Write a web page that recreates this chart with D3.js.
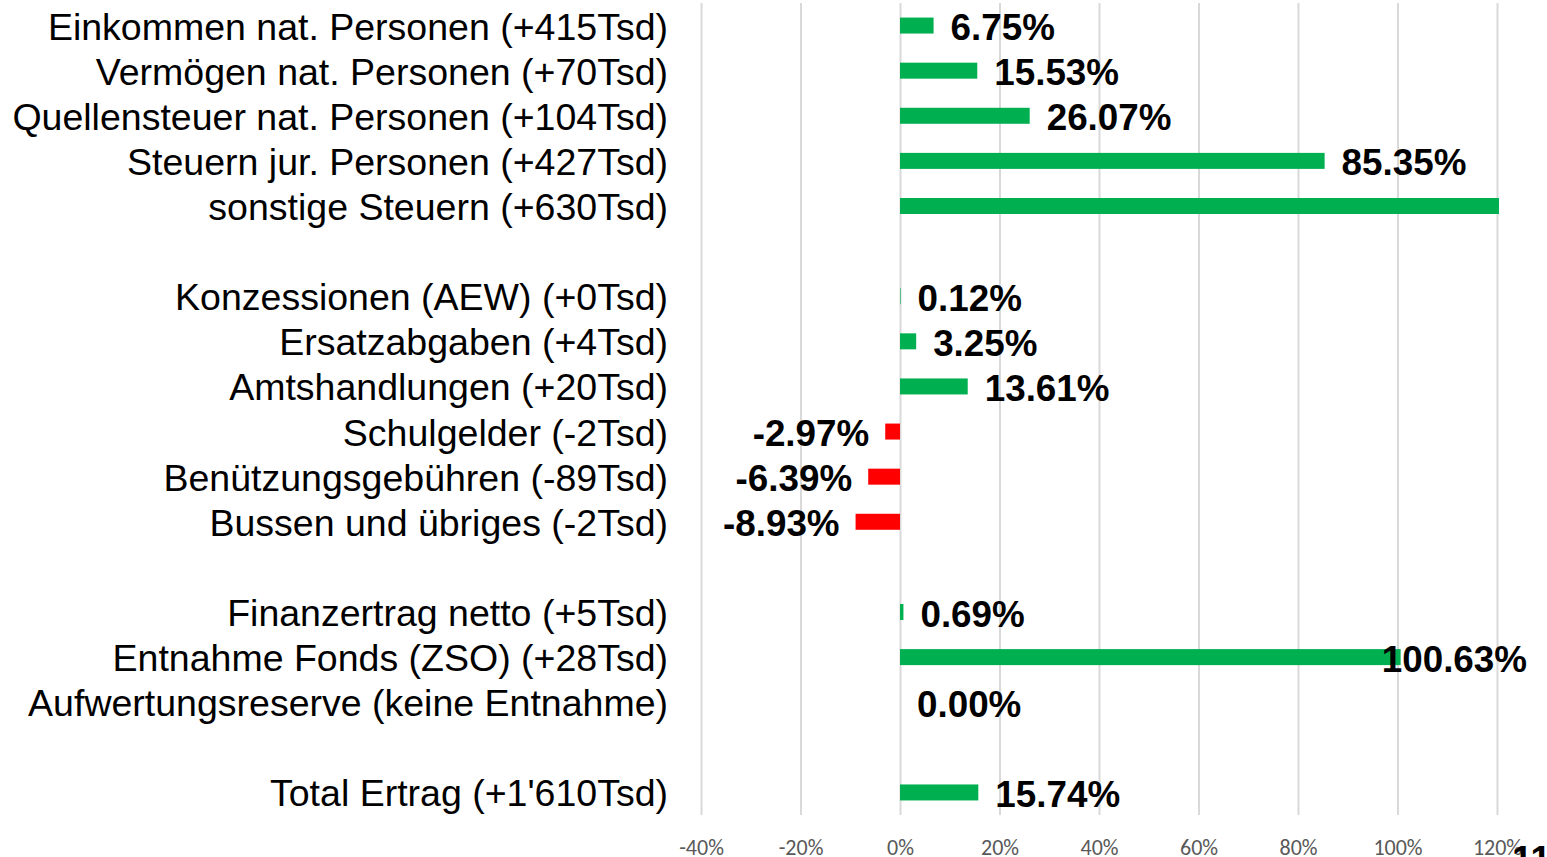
<!DOCTYPE html>
<html>
<head>
<meta charset="utf-8">
<script src="https://cdn.jsdelivr.net/npm/d3@7"></script>
<style>
  body { margin: 0; background: #fff; overflow: hidden; }
</style>
</head>
<body>
<div id="grafico"></div>
<script>
// Kategorien (leere Strings = Abstand zwischen Gruppen)
const kategorien = [
  "Einkommen nat. Personen (+415Tsd)",
  "Vermögen nat. Personen (+70Tsd)",
  "Quellensteuer nat. Personen (+104Tsd)",
  "Steuern jur. Personen (+427Tsd)",
  "sonstige Steuern (+630Tsd)",
  "",
  "Konzessionen (AEW) (+0Tsd)",
  "Ersatzabgaben (+4Tsd)",
  "Amtshandlungen (+20Tsd)",
  "Schulgelder (-2Tsd)",
  "Benützungsgebühren (-89Tsd)",
  "Bussen und übriges (-2Tsd)",
  "",
  "Finanzertrag netto (+5Tsd)",
  "Entnahme Fonds (ZSO) (+28Tsd)",
  "Aufwertungsreserve (keine Entnahme)",
  "",
  "Total Ertrag (+1'610Tsd)"
];

// Veränderung in %
const werte = [6.75, 15.53, 26.07, 85.35, 1124.6, null,
  0.12, 3.25, 13.61, -2.97, -6.39, -8.93, null,
  0.69, 100.63, 0.00, null, 15.74];

const ticks = [-40, -20, 0, 20, 40, 60, 80, 100, 120];

const width = 1547, height = 857;
const plotTop = 3, plotBottom = 815;
const plotLeft = 701, plotRight = 1497;

const svg = d3.select("#grafico").append("svg")
  .attr("width", width).attr("height", height);

const x = d3.scaleLinear().domain([-40, 120]).range([plotLeft, plotRight]);
const y = d3.scaleBand().domain(d3.range(kategorien.length))
  .range([plotTop, plotBottom]);

// Gitterlinien + Achse
const xAxis = d3.axisBottom(x).tickValues(ticks)
  .tickFormat(d => d + "%").tickSize(-(plotBottom - plotTop)).tickPadding(24);

const gAxis = svg.append("g")
  .attr("transform", `translate(0,${plotBottom})`)
  .call(xAxis);
gAxis.select(".domain").remove();
gAxis.selectAll("line").attr("stroke", "#d9d9d9").attr("stroke-width", 2);
gAxis.selectAll("text")
  .attr("fill", "#595959")
  .style("font-family", "Carlito, Lato, 'Open Sans', sans-serif")
  .style("font-size", "22px");

// Clip
svg.append("clipPath").attr("id", "clip")
  .append("rect").attr("x", 0).attr("y", 0)
  .attr("width", plotRight + 2).attr("height", height);

const daten = werte.map((v, i) => ({ v, i })).filter(d => d.v !== null);

// Balken
svg.append("g").attr("clip-path", "url(#clip)")
  .selectAll("rect").data(daten).enter().append("rect")
  .attr("x", d => x(Math.min(0, d.v)))
  .attr("width", d => Math.abs(x(d.v) - x(0)))
  .attr("y", d => y(d.i) + y.bandwidth() / 2 - 8)
  .attr("height", 16)
  .attr("fill", d => d.v < 0 ? "#ff0000" : "#00b050");

// Kategorie-Beschriftung
svg.append("g").selectAll("text")
  .data(kategorien.map((k, i) => ({ k, i })).filter(d => d.k))
  .enter().append("text")
  .attr("x", 668)
  .attr("y", d => y(d.i) + y.bandwidth() / 2 + 1)
  .attr("text-anchor", "end")
  .attr("dominant-baseline", "central")
  .style("font-family", "'Liberation Sans', Arial, sans-serif")
  .style("font-size", "37.5px")
  .attr("fill", "#000")
  .text(d => d.k);

// Wert-Beschriftung
const fmt = v => v.toFixed(2) + "%";
const labels = svg.append("g").selectAll("text")
  .data(daten).enter().append("text")
  .attr("y", d => y(d.i) + y.bandwidth() / 2 + 2)
  .attr("dominant-baseline", "central")
  .style("font-family", "'Liberation Sans', Arial, sans-serif")
  .style("font-weight", "bold")
  .style("font-size", "36.8px")
  .attr("fill", "#000")
  .attr("text-anchor", d => d.v < 0 ? "end" : "start")
  .text(d => fmt(d.v));

labels.each(function (d) {
  const t = d3.select(this);
  const w = this.getComputedTextLength();
  if (d.v < 0) {
    t.attr("x", x(d.v) - 16);
  } else if (d.v > 120) {
    // ausserhalb der Skala: Excel schiebt das Label unter die Achse
    t.attr("x", x(120) + 15).attr("y", plotBottom + 44);
  } else {
    let px = x(d.v) + 17;
    if (px + w > 1527) px = 1527 - w;
    t.attr("x", px);
  }
});
</script>
</body>
</html>
